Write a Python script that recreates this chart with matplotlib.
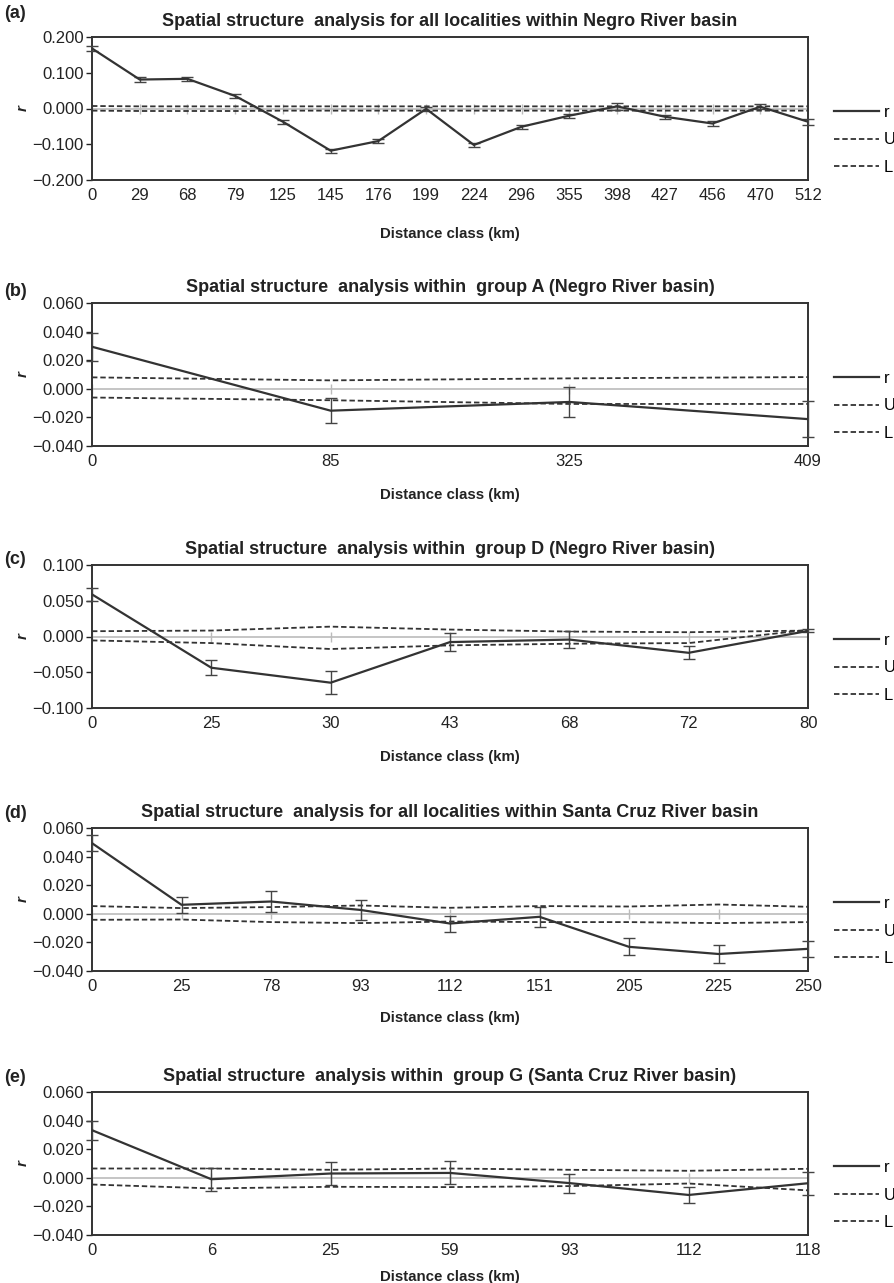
import matplotlib
matplotlib.use('Agg')
import matplotlib.pyplot as plt
from matplotlib.ticker import FuncFormatter, MultipleLocator
import numpy as np

plt.rcParams['font.family'] = ['Liberation Sans', 'DejaVu Sans']

# (a) all localities, Negro River basin
cats_a = ['0', '29', '68', '79', '125', '145', '176', '199', '224', '296', '355', '398', '427', '456', '470', '512']
r_a = [0.168, 0.081, 0.083, 0.035, -0.037, -0.118, -0.091, -0.001, -0.102, -0.051, -0.020, 0.006, -0.023, -0.042, 0.005, -0.037]
err_a = [0.008, 0.007, 0.006, 0.006, 0.006, 0.006, 0.006, 0.005, 0.006, 0.006, 0.006, 0.009, 0.006, 0.006, 0.007, 0.008]
U_a = [0.007, 0.006, 0.006, 0.006, 0.006, 0.006, 0.006, 0.006, 0.006, 0.006, 0.006, 0.006, 0.006, 0.006, 0.006, 0.006]
L_a = [-0.006, -0.007, -0.007, -0.007, -0.006, -0.006, -0.006, -0.006, -0.006, -0.006, -0.006, -0.006, -0.006, -0.006, -0.006, -0.006]

# (b) group A, Negro River basin
cats_b = ['0', '85', '325', '409']
r_b = [0.0294, -0.0153, -0.0092, -0.0212]
err_b = [0.0098, 0.0088, 0.0102, 0.0124]
U_b = [0.0080, 0.0059, 0.0073, 0.0082]
L_b = [-0.0061, -0.0080, -0.0106, -0.0106]

# (c) group D, Negro River basin
cats_c = ['0', '25', '30', '43', '68', '72', '80']
r_c = [0.0589, -0.0437, -0.0646, -0.0078, -0.0043, -0.0228, 0.0078]
err_c = [0.0095, 0.0108, 0.0165, 0.0129, 0.0117, 0.0090, 0.0020]
U_c = [0.0074, 0.0083, 0.0138, 0.0097, 0.0069, 0.0060, 0.0083]
L_c = [-0.0055, -0.0092, -0.0175, -0.0124, -0.0101, -0.0092, 0.0092]

# (d) all localities, Santa Cruz River basin
cats_d = ['0', '25', '78', '93', '112', '151', '205', '225', '250']
r_d = [0.0494, 0.0063, 0.0086, 0.0027, -0.0068, -0.0021, -0.0231, -0.0281, -0.0245]
err_d = [0.0055, 0.0054, 0.0074, 0.0072, 0.0056, 0.0070, 0.0060, 0.0060, 0.0054]
U_d = [0.0054, 0.0040, 0.0047, 0.0058, 0.0042, 0.0054, 0.0051, 0.0065, 0.0049]
L_d = [-0.0042, -0.0040, -0.0058, -0.0065, -0.0054, -0.0058, -0.0058, -0.0065, -0.0058]

# (e) group G, Santa Cruz River basin
cats_e = ['0', '6', '25', '59', '93', '112', '118']
r_e = [0.0333, -0.0010, 0.0030, 0.0034, -0.0037, -0.0120, -0.0038]
err_e = [0.0067, 0.0081, 0.0078, 0.0080, 0.0067, 0.0057, 0.0079]
U_e = [0.0065, 0.0065, 0.0056, 0.0065, 0.0056, 0.0049, 0.0063]
L_e = [-0.0047, -0.0074, -0.0063, -0.0065, -0.0058, -0.0040, -0.0088]

titles = ['Spatial structure  analysis for all localities within Negro River basin',
          'Spatial structure  analysis within  group A (Negro River basin)',
          'Spatial structure  analysis within  group D (Negro River basin)',
          'Spatial structure  analysis for all localities within Santa Cruz River basin',
          'Spatial structure  analysis within  group G (Santa Cruz River basin)']
tags = ['(a)', '(b)', '(c)', '(d)', '(e)']
ylims = [(-0.2, 0.2), (-0.04, 0.06), (-0.1, 0.1), (-0.04, 0.06), (-0.04, 0.06)]
ysteps = [0.1, 0.02, 0.05, 0.02, 0.02]

panels = [(cats_a, r_a, err_a, U_a, L_a),
          (cats_b, r_b, err_b, U_b, L_b),
          (cats_c, r_c, err_c, U_c, L_c),
          (cats_d, r_d, err_d, U_d, L_d),
          (cats_e, r_e, err_e, U_e, L_e)]

# layout in pixels (figure 894 x 1283)
W, H = 894, 1283
ax_left, ax_w, ax_h = 92, 716, 143
ax_tops = [37, 303, 565, 828, 1092]
tag_up = [23, 11, 5, 15, 14]
xlab_down = [47, 42, 42, 40, 35]

fig = plt.figure(figsize=(8.94, 12.83), dpi=100)

dark = '#333333'
fmt = FuncFormatter(lambda v, p: ('%.3f' % v).replace('-', '\u2212') if abs(v) > 1e-12 else '0.000')

for i, (cats, r, err, U, L) in enumerate(panels):
    top = ax_tops[i]
    ax = fig.add_axes([ax_left / W, 1 - (top + ax_h) / H, ax_w / W, ax_h / H])
    x = np.arange(len(cats))

    # zero line with category ticks
    ax.plot(x, np.zeros(len(cats)), color='#bbbbbb', lw=1.2, marker='|', ms=7, mew=1.0, zorder=1)

    ax.plot(x, U, color=dark, lw=1.3, ls=(0, (3, 1.6)), label='U', zorder=2)
    ax.plot(x, L, color=dark, lw=1.3, ls=(0, (3, 1.6)), label='L', zorder=2)
    ax.errorbar(x, r, yerr=err, fmt='none', ecolor='#444444', elinewidth=1.0,
                capsize=4, capthick=1.0, zorder=3, clip_on=False)
    ax.plot(x, r, color=dark, lw=1.6, label='r', zorder=4)

    ax.set_xlim(0, len(cats) - 1)
    ax.set_ylim(*ylims[i])
    ax.yaxis.set_major_locator(MultipleLocator(ysteps[i]))
    ax.yaxis.set_major_formatter(fmt)
    ax.set_xticks(x)
    ax.set_xticklabels(cats)
    ax.tick_params(axis='x', length=0, pad=6, labelsize=12, colors='#222222')
    ax.tick_params(axis='y', length=4, width=1, direction='out', pad=2, labelsize=12,
                   colors='#222222')
    for s in ax.spines.values():
        s.set_color(dark)
        s.set_linewidth(1.4)

    ax.set_title(titles[i], fontsize=13, fontweight='bold', pad=8, color='#222222')
    ax.set_xlabel('Distance class (km)', fontsize=10.8, fontweight='bold', color='#222222')
    ax.xaxis.set_label_coords(0.5, -xlab_down[i] / ax_h)
    ax.set_ylabel('r', fontsize=11, fontstyle='italic', fontweight='bold', color='#222222')
    ax.yaxis.set_label_coords(-62 / ax_w, 0.5)

    h, lab = ax.get_legend_handles_labels()
    order = [lab.index('r'), lab.index('U'), lab.index('L')]
    ax.legend([h[k] for k in order], [lab[k] for k in order], loc='center left',
              bbox_to_anchor=(1 + 26 / ax_w, 0.5 - 31.5 / ax_h), frameon=False,
              fontsize=12, handlelength=2.7, handletextpad=0.3, labelspacing=0.75,
              borderpad=0, borderaxespad=0)

    fig.text(4 / W, 1 - (top - tag_up[i]) / H, tags[i], fontsize=13, fontweight='bold',
             va='center', ha='left', color='#222222')

fig.savefig('out.png', dpi=100)
